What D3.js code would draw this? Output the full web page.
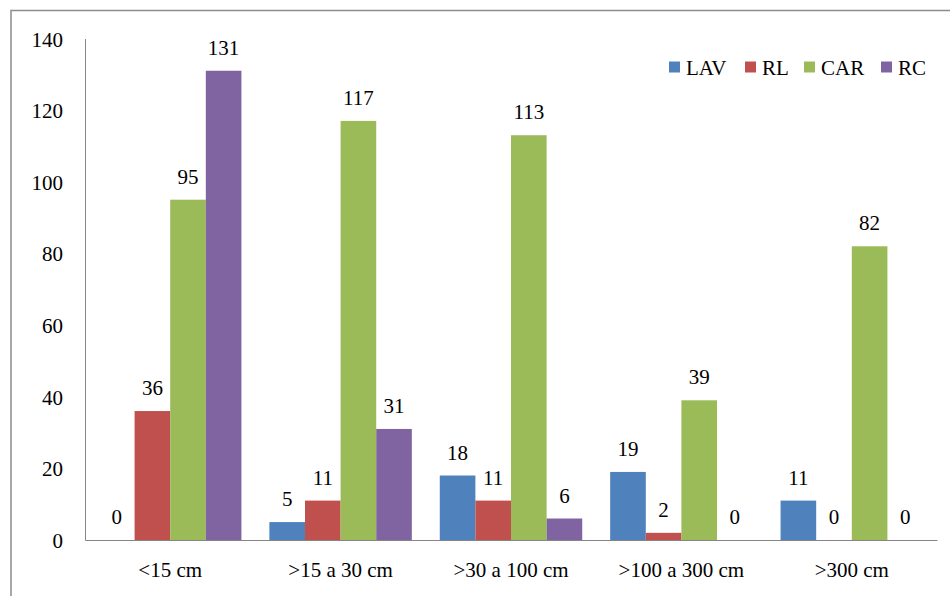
<!DOCTYPE html>
<html><head><meta charset="utf-8">
<script src="https://cdn.jsdelivr.net/npm/d3@7"></script>
</head><body style="margin:0;background:#fff">
<svg id="c" width="950" height="596" style="display:block"></svg>
<script>
const categories = ["<15 cm", ">15 a 30 cm", ">30 a 100 cm", ">100 a 300 cm", ">300 cm"];
const seriesNames = ["LAV", "RL", "CAR", "RC"];
const LAV = [0, 5, 18, 19, 11];
const RL = [36, 11, 11, 2, 0];
const CAR = [95, 117, 113, 39, 82];
const RC = [131, 31, 6, 0, 0];
const yTicks = [0, 20, 40, 60, 80, 100, 120, 140];
const colors = ["#4F81BD", "#C0504D", "#9BBB59", "#8064A2"];

const values = [LAV, RL, CAR, RC];
const svg = d3.select("#c");
const FONT = "Liberation Serif";

// frame
svg.append("rect").attr("x", 11).attr("y", 10.5).attr("width", 960).attr("height", 620)
  .attr("fill", "none").attr("stroke", "#8c8c8c").attr("stroke-width", 1.5);

const x0 = d3.scaleBand().domain(categories).range([85, 937]).paddingInner(0.164).paddingOuter(0.082);
const x1 = d3.scaleBand().domain(seriesNames).range([0, x0.bandwidth()]);
const y = d3.scaleLinear().domain([0, 140]).range([540, 38.5]);

// y axis
const yAxis = svg.append("g").attr("transform", "translate(85,0)")
  .call(d3.axisLeft(y).tickValues(yTicks).tickSize(0).tickPadding(22));
yAxis.select(".domain").attr("stroke", "#868686");
yAxis.selectAll("text").style("font-family", FONT).style("font-size", "21px")
  .attr("fill", "#000").attr("dy", "0.36em");

// bars and value labels
categories.forEach((c, ci) => {
  seriesNames.forEach((s, si) => {
    const v = values[si][ci];
    svg.append("rect")
      .attr("x", x0(c) + x1(s)).attr("width", x1.bandwidth())
      .attr("y", y(v)).attr("height", y(0) - y(v))
      .attr("fill", colors[si]);
    svg.append("text")
      .attr("x", x0(c) + x1(s) + x1.bandwidth() / 2)
      .attr("y", y(v) - 16)
      .attr("text-anchor", "middle")
      .style("font-family", FONT).style("font-size", "21px")
      .attr("fill", "#000")
      .text(v);
  });
});

// x axis
const xAxis = svg.append("g").attr("transform", "translate(0,540)")
  .call(d3.axisBottom(x0).tickSize(0).tickPadding(0).tickSizeOuter(0));
xAxis.select(".domain").attr("stroke", "#868686");
xAxis.selectAll("text").style("font-family", FONT).style("font-size", "21px")
  .attr("fill", "#000").attr("dy", null).attr("y", 37);

// legend
const legX = [669, 745, 804, 881];
seriesNames.forEach((s, i) => {
  svg.append("rect").attr("x", legX[i]).attr("y", 61.5).attr("width", 11).attr("height", 11).attr("fill", colors[i]);
  svg.append("text").attr("x", legX[i] + 17).attr("y", 74.5)
    .style("font-family", FONT).style("font-size", "21px")
    .attr("fill", "#000").text(s);
});
</script>
</body></html>
